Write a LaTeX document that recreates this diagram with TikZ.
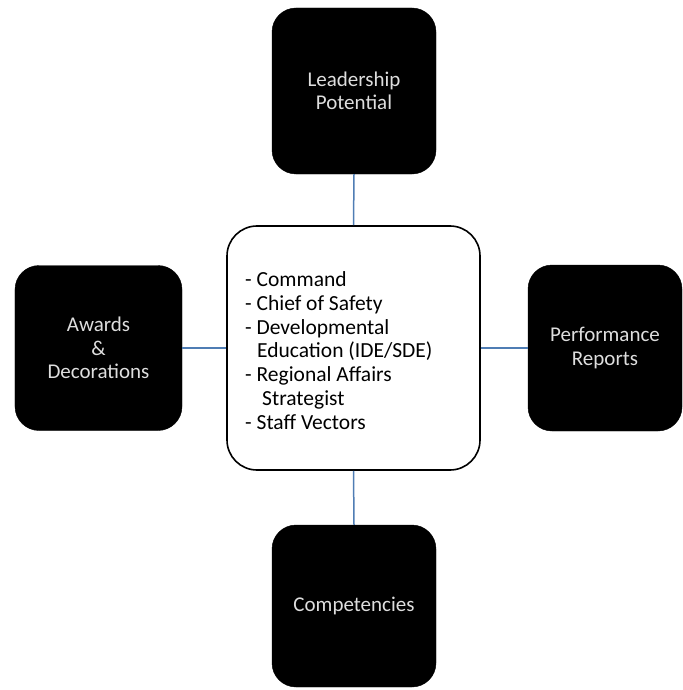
\documentclass[tikz,border=0pt]{standalone}
\usepackage{fontspec}
\setmainfont{Carlito}
\begin{document}
\begin{tikzpicture}[x=1bp,y=-1bp,
  darkbox/.style={rectangle, rounded corners=24bp, fill=black, draw=black,
    text=black!13, align=center, font=\fontsize{21bp}{23.5bp}\selectfont, inner sep=0pt},
  hubbox/.style={rectangle, rounded corners=30bp, fill=white, draw=black, line width=1.6bp,
    minimum width=253bp, minimum height=244bp, inner sep=0pt},
  link/.style={draw=linkcol, line width=1.5bp}]
\useasboundingbox (0,0) rectangle (683,690);
\definecolor{linkcol}{RGB}{79,125,180}
% surrounding category boxes
\node[darkbox, minimum width=164bp, minimum height=166bp] (lead) at (354,91) {Leadership\\Potential};
\node[darkbox, minimum width=167bp, minimum height=165bp] (award) at (98.5,348) {Awards\\\&\\Decorations};
\node[darkbox, minimum width=154bp, minimum height=166bp] (perf) at (605,348) {Performance\\Reports};
\node[darkbox, minimum width=164bp, minimum height=162bp] (comp) at (354,606) {\raisebox{-3bp}{Competencies}};
% central hub
\node[hubbox] (hub) at (353.5,348) {};
\node[anchor=base west, align=left, inner sep=0pt,
  font=\fontsize{21.5bp}{23.7bp}\selectfont] (list) at (245,429)
  {- Command\\- Chief of Safety\\- Developmental\\\hspace*{12bp}Education (IDE/SDE)\\- Regional Affairs\\\hspace*{17bp}Strategist\\- Staff Vectors};
% connectors
\draw[link] (lead.south) -- (hub.north);
\draw[link] (award.east) -- (hub.west);
\draw[link] (hub.east) -- (perf.west);
\draw[link] (hub.south) -- (comp.north);
\end{tikzpicture}
\end{document}
